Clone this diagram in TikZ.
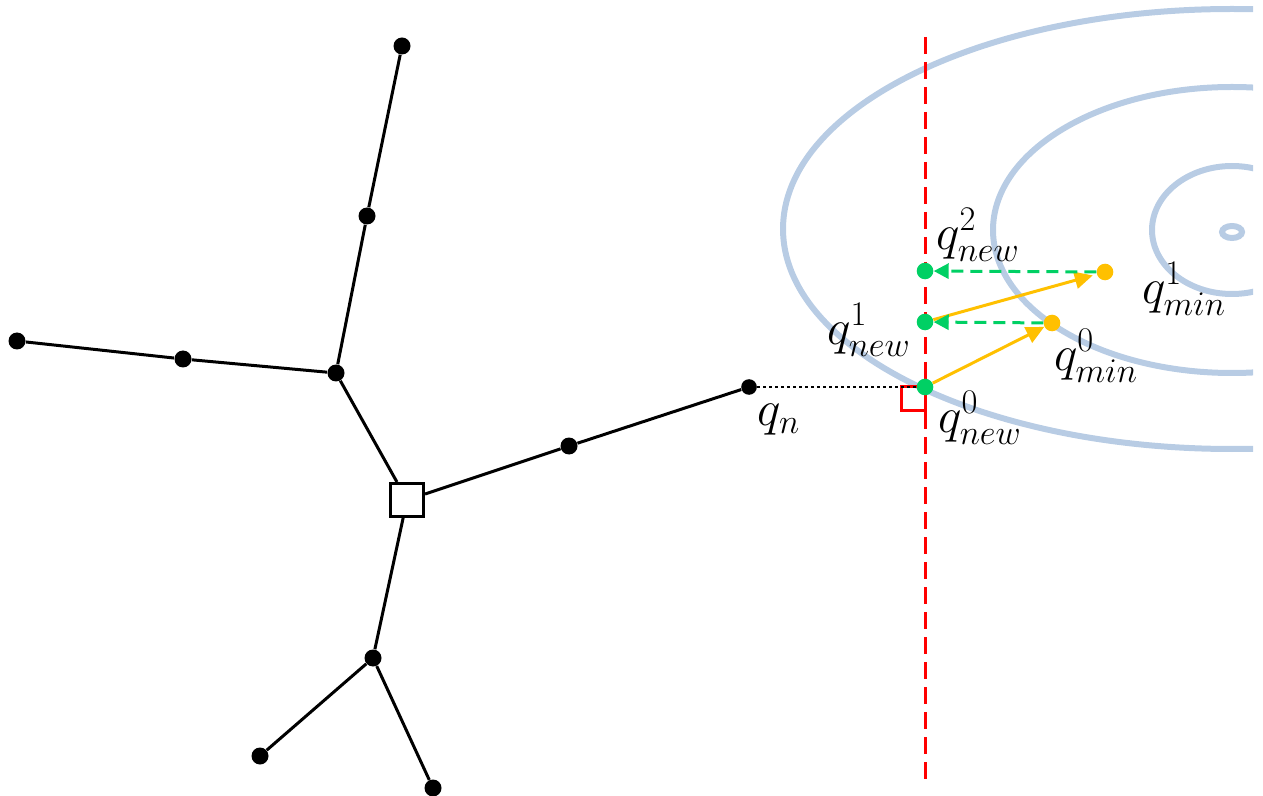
\documentclass[tikz,border=0pt]{standalone}
\usetikzlibrary{arrows.meta}
\definecolor{qgreen}{RGB}{0,208,100}
\definecolor{qorange}{RGB}{255,192,0}
\definecolor{qblue}{RGB}{184,204,228}
\definecolor{qred}{RGB}{255,0,0}
\begin{document}
\begin{tikzpicture}[x=0.5pt,y=-0.5pt,
  edge/.style={line width=1.5pt,black},
  vtx/.style={circle,fill=black,inner sep=0pt,minimum size=8.5pt},
  root/.style={draw=black,fill=white,line width=1.5pt,inner sep=0pt,minimum size=16.5pt},
  gdot/.style={circle,fill=qgreen,inner sep=0pt,minimum size=8.3pt},
  odot/.style={circle,fill=qorange,inner sep=0pt,minimum size=8.3pt},
  lbl/.style={font=\fontsize{26.5}{32}\selectfont,inner sep=0pt},
  level/.style={draw=qblue,line width=3pt},
  stepline/.style={draw=qorange,line width=1.5pt,-{Triangle[length=9pt,width=8.5pt]}},
  proj/.style={draw=qgreen,line width=1.5pt,dash pattern=on 6pt off 3.5pt,-{Triangle[length=7.5pt,width=7.5pt]}},
  plane/.style={draw=qred,line width=1.5pt,dash pattern=on 8.5pt off 4pt},
]
\useasboundingbox (0,0) rectangle (1263,796);
% level sets
\begin{scope}
  \clip (0,0) rectangle (1253,796);
  \draw[level] (1232,229) ellipse [x radius=449, y radius=220];
  \draw[level] (1232,230) ellipse [x radius=239, y radius=143];
  \draw[level] (1232,230) ellipse [x radius=80, y radius=64];
  \draw[level] (1232,232) ellipse [x radius=10, y radius=6];
\end{scope}
% separating line
\coordinate (ptop) at (925,37);
\coordinate (pbot) at (925,782);
\draw[plane] (ptop) -- (pbot);
% tree
\node[root] (r) at (407,500) {};
\node[vtx] (a1) at (336,373) {};
\node[vtx] (a2) at (367,216) {};
\node[vtx] (a3) at (402,46) {};
\node[vtx] (b1) at (183,359) {};
\node[vtx] (b2) at (17,341) {};
\node[vtx] (c1) at (569,446) {};
\node[vtx,minimum size=7.8pt] (qn) at (749,387) {};
\node[vtx] (d1) at (373,658) {};
\node[vtx] (d2) at (260,756) {};
\node[vtx] (d3) at (433,788) {};
\draw[edge] (r) -- (a1) -- (a2) -- (a3);
\draw[edge] (a1) -- (b1) -- (b2);
\draw[edge] (r) -- (c1) -- (qn);
\draw[edge] (r) -- (d1) -- (d2);
\draw[edge] (d1) -- (d3);
% right angle mark
\draw[qred,line width=1.5pt] (901,387) rectangle (925,411);
% points
\node[gdot] (g0) at (925,387) {};
\node[gdot] (g1) at (925,322) {};
\node[gdot] (g2) at (925,271) {};
\node[odot] (o0) at (1052,323) {};
\node[odot] (o1) at (1105,272) {};
\draw[line width=1.4pt,dash pattern=on 1.5pt off 1.5pt] (qn) -- (g0);
\draw[stepline] (g0) -- (o0);
\draw[stepline,shorten >=2pt] (g1) -- (o1);
\draw[proj] (o0) -- (g1);
\draw[proj] (o1) -- (g2);
% labels
\node[lbl] (lqn) at (779,420) {$q_n$};
\node[lbl] (lg0) at (980,418) {$q^0_{new}$};
\node[lbl] (lg1) at (869,330) {$q^1_{new}$};
\node[lbl] (lg2) at (978,235) {$q^2_{new}$};
\node[lbl] (lo0) at (1096,356) {$q^0_{min}$};
\node[lbl] (lo1) at (1184,289) {$q^1_{min}$};
\end{tikzpicture}
\end{document}
